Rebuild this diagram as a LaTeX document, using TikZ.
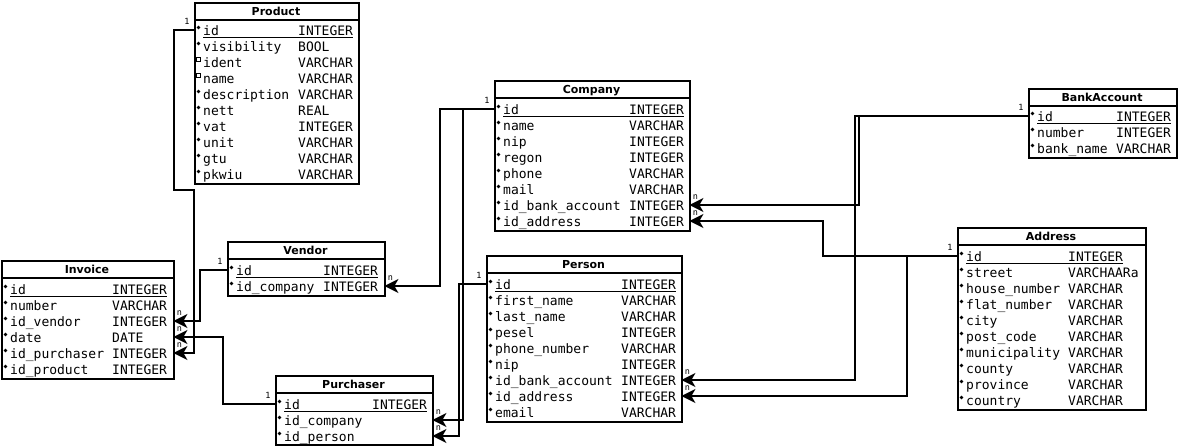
\documentclass[tikz,border=0pt]{standalone}
\usepackage{fontspec}
\newfontfamily\monof{DejaVu Sans Mono}
\newfontfamily\titlef{DejaVu Sans}
\usetikzlibrary{arrows.meta}
\tikzset{
  tbl/.style={draw, line width=1.7pt, inner sep=0pt, anchor=north west},
  hdline/.style={line width=1.7pt},
  rowcell/.style={inner sep=0pt, minimum height=16pt, anchor=west},
  fld/.style={anchor=base west, inner sep=0pt, font=\monof\fontsize{13}{15}\selectfont},
  ttl/.style={anchor=base, inner sep=0pt, font=\titlef\bfseries\fontsize{11}{13}\selectfont},
  uline/.style={line width=1pt},
  conn/.style={line width=1.9pt, -{Stealth[length=14pt,width=14pt,inset=4pt]}},
  lbl/.style={inner sep=0pt, font=\monof\fontsize{8.5}{9}\selectfont},
}
\newcommand\ertbl[6]{% name, xl, xr, top, bottom, title
  \node[tbl, minimum width={#3-#2}, minimum height={#5-#4}] (#1) at (#2,#4) {};
  \draw[hdline] (#2,{#4+18}) -- (#3,{#4+18});
  \node[ttl] (#1-title) at ({(#2+#3)/2},{#4+13.5}) {#6};
}
\newcommand\erow[7]{% name, xl, width, y, field, typex, type
  \node[rowcell, minimum width=#3] (#1) at (#2,#4) {};
  \fill ({#2+4.5},{#4-2.5}) circle (1.9);
  \node[fld] at ({#2+9},{#4+5}) {#5};
  \node[fld] at (#6,{#4+5}) {#7};
}
\newcommand\erowsq[7]{% hollow-square variant
  \node[rowcell, minimum width=#3] (#1) at (#2,#4) {};
  \draw[line width=0.8pt] ({#2+2.5},{#4-4.5}) rectangle ({#2+6.5},{#4-0.5});
  \node[fld] at ({#2+9},{#4+5}) {#5};
  \node[fld] at (#6,{#4+5}) {#7};
}
\begin{document}
\begin{tikzpicture}[x=1pt,y=-1pt]
\useasboundingbox (0,0) rectangle (1178,445);

% ---------- Product ----------
\ertbl{product}{194}{358}{2}{183}{Product}
\erow{product-id}{194}{164}{30}{id}{298}{INTEGER}
\erow{product-vis}{194}{164}{46}{visibility}{298}{BOOL}
\erowsq{product-ident}{194}{164}{62}{ident}{298}{VARCHAR}
\erowsq{product-name}{194}{164}{78}{name}{298}{VARCHAR}
\erow{product-desc}{194}{164}{94}{description}{298}{VARCHAR}
\erow{product-nett}{194}{164}{110}{nett}{298}{REAL}
\erow{product-vat}{194}{164}{126}{vat}{298}{INTEGER}
\erow{product-unit}{194}{164}{142}{unit}{298}{VARCHAR}
\erow{product-gtu}{194}{164}{158}{gtu}{298}{VARCHAR}
\erow{product-pkwiu}{194}{164}{174}{pkwiu}{298}{VARCHAR}
\draw[uline] (203,37) -- (353,37);

% ---------- Invoice ----------
\ertbl{invoice}{1}{173}{260}{378}{Invoice}
\erow{invoice-id}{1}{172}{289}{id}{112}{INTEGER}
\erow{invoice-number}{1}{172}{305}{number}{112}{VARCHAR}
\erow{invoice-idvendor}{1}{172}{321}{id\_vendor}{112}{INTEGER}
\erow{invoice-date}{1}{172}{337}{date}{112}{DATE}
\erow{invoice-idpurchaser}{1}{172}{353}{id\_purchaser}{112}{INTEGER}
\erow{invoice-idproduct}{1}{172}{369}{id\_product}{112}{INTEGER}
\draw[uline] (10,296) -- (167,296);

% ---------- Vendor ----------
\ertbl{vendor}{227}{384}{241}{295}{Vendor}
\erow{vendor-id}{227}{157}{270}{id}{323}{INTEGER}
\erow{vendor-idcompany}{227}{157}{286}{id\_company}{323}{INTEGER}
\draw[uline] (236,277) -- (378,277);

% ---------- Purchaser ----------
\ertbl{purchaser}{275}{432}{375}{444}{Purchaser}
\erow{purchaser-id}{275}{157}{404}{id}{372}{INTEGER}
\erow{purchaser-idcompany}{275}{157}{420}{id\_company}{372}{}
\erow{purchaser-idperson}{275}{157}{436}{id\_person}{372}{}
\draw[uline] (284,411) -- (427,411);

% ---------- Company ----------
\ertbl{company}{494}{689}{80}{230}{Company}
\erow{company-id}{494}{195}{109}{id}{629}{INTEGER}
\erow{company-name}{494}{195}{125}{name}{629}{VARCHAR}
\erow{company-nip}{494}{195}{141}{nip}{629}{INTEGER}
\erow{company-regon}{494}{195}{157}{regon}{629}{INTEGER}
\erow{company-phone}{494}{195}{173}{phone}{629}{VARCHAR}
\erow{company-mail}{494}{195}{189}{mail}{629}{VARCHAR}
\erow{company-idbank}{494}{195}{205}{id\_bank\_account}{629}{INTEGER}
\erow{company-idaddress}{494}{195}{221}{id\_address}{629}{INTEGER}
\draw[uline] (503,116) -- (684,116);

% ---------- Person ----------
\ertbl{person}{486}{681}{255}{421}{Person}
\erow{person-id}{486}{195}{284}{id}{621}{INTEGER}
\erow{person-first}{486}{195}{300}{first\_name}{621}{VARCHAR}
\erow{person-last}{486}{195}{316}{last\_name}{621}{VARCHAR}
\erow{person-pesel}{486}{195}{332}{pesel}{621}{INTEGER}
\erow{person-phone}{486}{195}{348}{phone\_number}{621}{VARCHAR}
\erow{person-nip}{486}{195}{364}{nip}{621}{INTEGER}
\erow{person-idbank}{486}{195}{380}{id\_bank\_account}{621}{INTEGER}
\erow{person-idaddress}{486}{195}{396}{id\_address}{621}{INTEGER}
\erow{person-email}{486}{195}{412}{email}{621}{VARCHAR}
\draw[uline] (495,291) -- (676,291);

% ---------- BankAccount ----------
\ertbl{bank}{1028}{1176}{88}{157}{BankAccount}
\erow{bank-id}{1028}{148}{116}{id}{1116}{INTEGER}
\erow{bank-number}{1028}{148}{132}{number}{1116}{INTEGER}
\erow{bank-name}{1028}{148}{148}{bank\_name}{1116}{VARCHAR}
\draw[uline] (1037,123) -- (1171,123);

% ---------- Address ----------
\ertbl{address}{957}{1145}{227}{409}{Address}
\erow{address-id}{957}{188}{256}{id}{1068}{INTEGER}
\erow{address-street}{957}{188}{272}{street}{1068}{VARCHAARa}
\erow{address-house}{957}{188}{288}{house\_number}{1068}{VARCHAR}
\erow{address-flat}{957}{188}{304}{flat\_number}{1068}{VARCHAR}
\erow{address-city}{957}{188}{320}{city}{1068}{VARCHAR}
\erow{address-post}{957}{188}{336}{post\_code}{1068}{VARCHAR}
\erow{address-muni}{957}{188}{352}{municipality}{1068}{VARCHAR}
\erow{address-county}{957}{188}{368}{county}{1068}{VARCHAR}
\erow{address-province}{957}{188}{384}{province}{1068}{VARCHAR}
\erow{address-country}{957}{188}{400}{country}{1068}{VARCHAR}
\draw[uline] (966,263) -- (1123,263);

% ---------- connectors ----------
\draw[conn] (product-id.west) -| (174,190) -| (194,353) -- (invoice-idpurchaser.east);
\draw[conn] (vendor-id.west) -| (200,321) -- (invoice-idvendor.east);
\draw[conn] (purchaser-id.west) -| (223,337) -- (invoice-date.east);
\draw[conn] (company-id.west) -| (440,286) -- (vendor-idcompany.east);
\draw[conn] (company-id.west) -| (463,420) -- (purchaser-idcompany.east);
\draw[conn] (person-id.west) -| (459,436) -- (purchaser-idperson.east);
\draw[conn] (bank-id.west) -| (859,205) -- (company-idbank.east);
\draw[conn] (bank-id.west) -| (855,380) -- (person-idbank.east);
\draw[conn] (address-id.west) -| (823,221) -- (company-idaddress.east);
\draw[conn] (address-id.west) -| (907,396) -- (person-idaddress.east);

% ---------- cardinality labels ----------
\foreach \s in {product-id,vendor-id,purchaser-id,company-id,person-id,bank-id,address-id}
  \node[lbl] at ([xshift=-7pt,yshift=9pt]\s.west) {1};
\foreach \t in {invoice-idpurchaser,invoice-idvendor,invoice-date,vendor-idcompany,purchaser-idcompany,purchaser-idperson,company-idbank,person-idbank,company-idaddress,person-idaddress}
  \node[lbl] at ([xshift=6pt,yshift=8pt]\t.east) {n};
\end{tikzpicture}
\end{document}
